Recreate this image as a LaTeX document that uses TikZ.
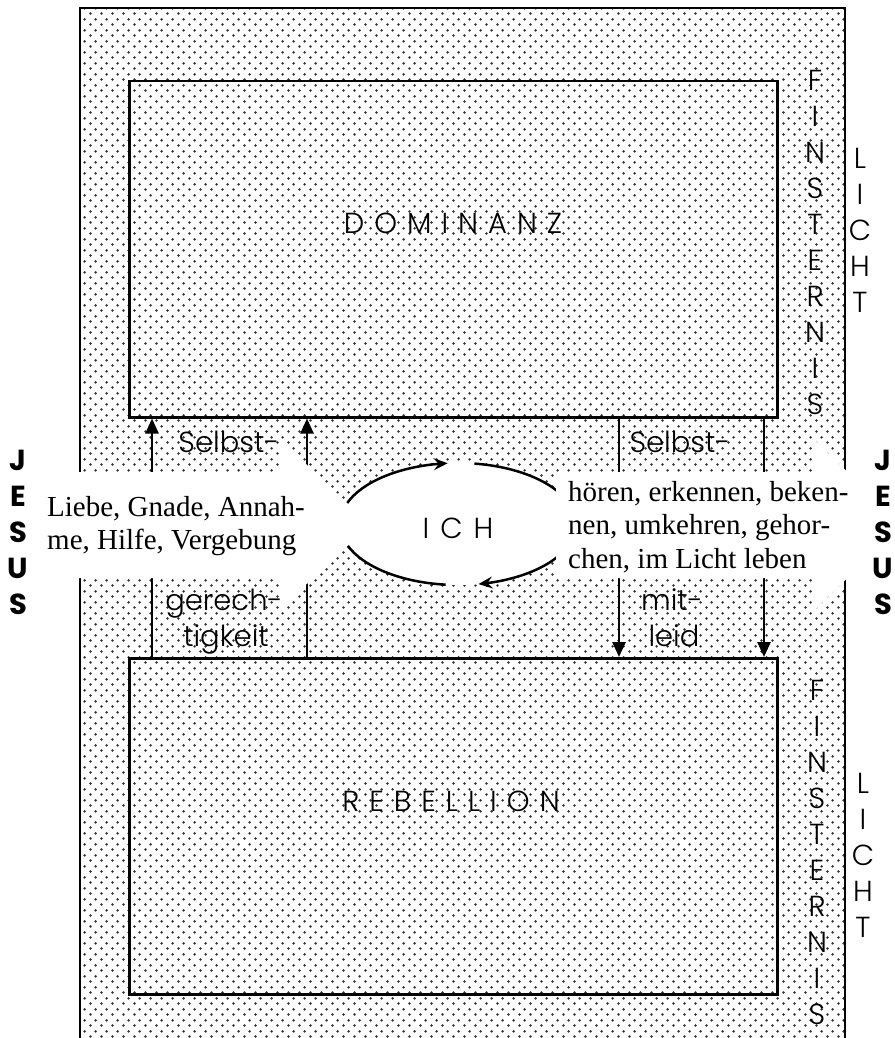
\documentclass[tikz,border=0pt]{standalone}
\usepackage{fontspec}
\setmainfont{Liberation Serif}
\newfontfamily\gothic{Poppins}[UprightFont=* Light, BoldFont=* Bold]
\usetikzlibrary{arrows.meta,patterns,bending,shapes.geometric}
\pgfdeclarepatternformonly{halftone}{\pgfpointorigin}{\pgfqpoint{11pt}{11pt}}{\pgfqpoint{11pt}{11pt}}{%
  \pgfpathcircle{\pgfqpoint{2.75pt}{2.75pt}}{1.5pt}%
  \pgfpathcircle{\pgfqpoint{8.25pt}{8.25pt}}{1.5pt}%
  \pgfusepath{fill}}
\newcommand\gapk{\kern 10pt}
\newcommand\gapi{\kern 11pt}
\begin{document}
\begin{tikzpicture}[x=1pt,y=-1pt,
  box/.style={draw, line width=2.5pt, minimum width=648pt, minimum height=336pt, inner sep=0pt, anchor=north west},
  gt/.style={font=\gothic\fontsize{29}{36}\selectfont, inner sep=0pt},
  vstack/.style={gt, align=center, anchor=north},
  jstack/.style={font=\gothic\bfseries\fontsize{29}{36}\selectfont, inner sep=0pt, align=center, anchor=north},
  serif/.style={font=\fontsize{29}{33.5}\selectfont, inner sep=0pt, align=left, anchor=north west},
  varr/.style={line width=2.5pt, -{Triangle[length=15pt,width=13pt]}},
  ring/.style={line width=2.5pt},
  ringarr/.style={line width=2.5pt, -{Stealth[length=14pt,width=12pt,inset=5pt]}}]
\useasboundingbox (0,0) rectangle (894,1038);
\fill[white] (0,0) rectangle (894,1038);
% background halftone
\fill[pattern=halftone, pattern color=black!80] (80,8) rectangle (845,1040);
\draw[line width=2.5pt] (80,1042) -- (80,8) -- (845,8) -- (845,1042);
% boxes
\node[box] (dom) at (128,80) {};
\node[box] (reb) at (128,657) {};
\node[gt, anchor=base] (dtxt) at (453,233) {D\gapk O\gapk M\gapk I\gapk N\gapk A\gapk N\gapk Z};
\node[gt, anchor=base] (rtxt) at (451,811) {R\gapk E\gapk B\gapk E\gapk L\gapk L\gapk I\gapk O\gapk N};
% vertical arrows
\coordinate (xa) at (152,0);
\coordinate (xb) at (307,0);
\coordinate (xc) at (619,0);
\coordinate (xd) at (764,0);
\draw[varr] (xa |- reb.north) -- (xa |- dom.south);
\draw[varr] (xb |- reb.north) -- (xb |- dom.south);
\draw[varr] (xc |- dom.south) -- (xc |- reb.north);
\draw[varr] (xd |- dom.south) -- (xd |- reb.north);
% column labels
\node[gt, anchor=base] (s1) at (229,452) {Selbst-};
\node[gt, anchor=base] (g1) at (224,610) {gerech-};
\node[gt, anchor=base] (g2) at (226,646) {tigkeit};
\node[gt, anchor=base] (s2) at (680,452) {Selbst-};
\node[gt, anchor=base] (m1) at (672,610) {mit-};
\node[gt, anchor=base] (m2) at (674,646) {leid};
% ICH ellipse
\node[ellipse, fill=white, minimum width=236pt, minimum height=122pt, inner sep=0pt] (ich) at (458,524) {};
\draw[ringarr] (ich.center) ++(-160:118 and 61) arc[start angle=-160, end angle=-95, x radius=118, y radius=61];
\draw[ring] (ich.center) ++(-82:118 and 61) arc[start angle=-82, end angle=-10, x radius=118, y radius=61];
\draw[ringarr] (ich.center) ++(10:118 and 61) arc[start angle=10, end angle=80, x radius=118, y radius=61];
\draw[ring] (ich.center) ++(96:118 and 61) arc[start angle=96, end angle=160, x radius=118, y radius=61];
% white arrows
\fill[white] (-2,472) -- (281,472) -- (281,440) -- (370,525) -- (281,608) -- (281,578) -- (-2,578) -- cycle;
\fill[white] (556,472) -- (812,472) -- (812,437) -- (901,525) -- (812,613) -- (812,578) -- (556,578) -- cycle;
\node[gt, anchor=base] (ichtxt) at (458,538) {I\gapi C\gapi H};
\node[serif] (lt) at (47,496) {Liebe, Gnade, Annah-\\me, Hilfe, Vergebung};
\node[serif] (rt) at (568,481) {hören, erkennen, beken-\\nen, umkehren, gehor-\\chen, im Licht leben};
% vertical words
\node[vstack] (fin1) at (815,70) {F\\I\\N\\S\\T\\E\\R\\N\\I\\S};
\node[vstack] (lic1) at (860,148) {L\\I\\C\\H\\T};
\node[vstack] (fin2) at (817,680) {F\\I\\N\\S\\T\\E\\R\\N\\I\\S};
\node[vstack] (lic2) at (863,773) {L\\I\\C\\H\\T};
\node[jstack] (jl) at (18,450) {J\\E\\S\\U\\S};
\node[jstack] (jr) at (883,450) {J\\E\\S\\U\\S};
\end{tikzpicture}
\end{document}
